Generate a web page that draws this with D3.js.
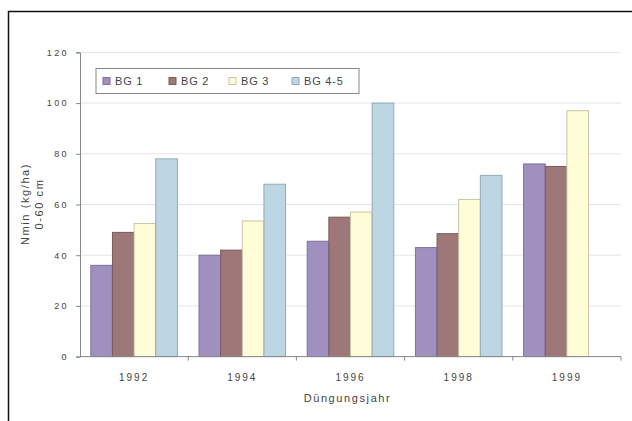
<!DOCTYPE html>
<html>
<head>
<meta charset="utf-8">
<script src="https://cdn.jsdelivr.net/npm/d3@7"></script>
<style>
  html, body { margin: 0; padding: 0; background: #fff; }
  svg { display: block; font-family: "Liberation Sans", Arial, sans-serif; }
</style>
</head>
<body>
<svg id="chart" width="632" height="421"></svg>
<script>
// Nmin values (kg/ha, 0-60 cm) per fertilisation year and soil group
const years = ["1992", "1994", "1996", "1998", "1999"];
const groups = ["BG 1", "BG 2", "BG 3", "BG 4-5"];
const bg1 = [36, 40, 45.5, 43, 76];
const bg2 = [49, 42, 55, 48.5, 75];
const bg3 = [52.5, 53.5, 57, 62, 97];
const bg45 = [78, 68, 100, 71.5, null];
const yTicks = [0, 20, 40, 60, 80, 100, 120];
const colors = ["#a090c0", "#9e7878", "#fffcd8", "#bcd6e4"];
const strokes = ["#7d6f98", "#7a5a5a", "#c9c6a6", "#93aab6"];

const seriesValues = [bg1, bg2, bg3, bg45];

const svg = d3.select("#chart");

// frame around the chart area
svg.append("rect")
  .attr("x", 8.5).attr("y", 11.5)
  .attr("width", 640).attr("height", 420)
  .attr("fill", "none").attr("stroke", "#111").attr("stroke-width", 1.5);

const plot = { left: 80, right: 621, top: 52.4, bottom: 356.6 };

const x0 = d3.scaleBand().domain(years)
  .range([plot.left, plot.right]).paddingInner(0.2).paddingOuter(0.1);
const x1 = d3.scaleBand().domain(groups).range([0, x0.bandwidth()]);
const y = d3.scaleLinear().domain([0, 120]).range([plot.bottom, plot.top]);

// horizontal grid lines
svg.append("g").selectAll("line")
  .data(yTicks.filter(t => t > 0))
  .join("line")
  .attr("x1", plot.left).attr("x2", plot.right)
  .attr("y1", d => y(d)).attr("y2", d => y(d))
  .attr("stroke", "#e6e6e6").attr("stroke-width", 1);

// bars
const rows = years.map((yr, i) => ({ year: yr, vals: groups.map((g, k) => ({ g, k, v: seriesValues[k][i] })) }));
svg.append("g").selectAll("g")
  .data(rows)
  .join("g")
  .attr("transform", d => `translate(${x0(d.year)},0)`)
  .selectAll("rect")
  .data(d => d.vals.filter(e => e.v != null))
  .join("rect")
  .attr("x", d => x1(d.g))
  .attr("width", x1.bandwidth())
  .attr("y", d => y(d.v))
  .attr("height", d => y(0) - y(d.v))
  .attr("fill", d => colors[d.k])
  .attr("stroke", d => strokes[d.k])
  .attr("stroke-width", 1);

// y axis
const yAxis = d3.axisLeft(y).tickValues(yTicks).tickSize(4).tickPadding(7);
const gy = svg.append("g").attr("transform", `translate(${plot.left},0)`).call(yAxis);
gy.select(".domain").attr("stroke", "#888");
gy.selectAll(".tick line").attr("stroke", "#888");
gy.selectAll(".tick text")
  .attr("font-size", 9).attr("fill", "#444")
  .attr("font-family", "Liberation Sans, Arial, sans-serif")
  .style("letter-spacing", "2.4px");

// x axis with ticks between categories
const xAxis = d3.axisBottom(x0).tickSize(0).tickPadding(17);
const gx = svg.append("g").attr("transform", `translate(0,${plot.bottom})`).call(xAxis);
gx.select(".domain").attr("stroke", "#888").attr("d", `M${plot.left},0H${plot.right}`);
gx.selectAll(".tick text")
  .attr("font-size", 10).attr("fill", "#444")
  .attr("font-family", "Liberation Sans, Arial, sans-serif")
  .style("letter-spacing", "2px");
const sep = years.map(yr => x0(yr) - x0.step() * x0.paddingInner() / 2).slice(1).concat([plot.right]);
gx.append("g").selectAll("line").data(sep).join("line")
  .attr("x1", d => d).attr("x2", d => d).attr("y1", 0).attr("y2", 4)
  .attr("stroke", "#888");

// axis titles
svg.append("text")
  .attr("x", (plot.left + plot.right) / 2 - 3).attr("y", 402)
  .attr("text-anchor", "middle").attr("font-size", 11).attr("fill", "#444")
  .style("letter-spacing", "1.6px")
  .text("Düngungsjahr");

const yTitle = svg.append("text")
  .attr("transform", "translate(29,204) rotate(-90)")
  .attr("text-anchor", "middle").attr("font-size", 11).attr("fill", "#444")
  .style("letter-spacing", "1.6px");
yTitle.append("tspan").attr("x", 0).attr("dy", 0).text("Nmin (kg/ha)");
yTitle.append("tspan").attr("x", 0).attr("dy", 14).text("0-60  cm");

// legend
const legend = svg.append("g");
legend.append("rect")
  .attr("x", 96).attr("y", 68.5).attr("width", 263).attr("height", 25)
  .attr("fill", "#fff").attr("stroke", "#888").attr("stroke-width", 1);
const legendX = [103, 169, 229, 292];
const item = legend.selectAll("g.item").data(groups).join("g")
  .attr("class", "item")
  .attr("transform", (d, i) => `translate(${legendX[i]},81)`);
item.append("rect")
  .attr("x", 0).attr("y", -3.5).attr("width", 7).attr("height", 7)
  .attr("fill", (d, i) => colors[i]).attr("stroke", (d, i) => strokes[i]);
item.append("text")
  .attr("x", 12).attr("y", 4)
  .attr("font-size", 11).attr("fill", "#444")
  .style("letter-spacing", "0.8px")
  .text(d => d);
</script>
</body>
</html>
